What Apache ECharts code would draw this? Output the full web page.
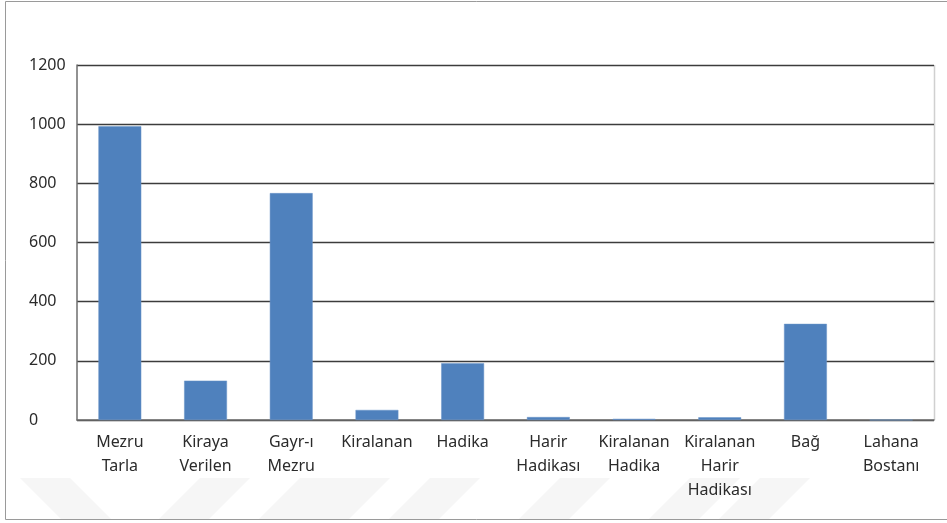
<!DOCTYPE html>
<html>
<head>
<meta charset="utf-8">
<script src="https://cdn.jsdelivr.net/npm/echarts@6/dist/echarts.min.js"></script>
<style>
  html, body { margin: 0; padding: 0; background: #fff; }
  #chart { width: 947px; height: 523px; }
</style>
</head>
<body>
<div id="chart"></div>
<script>
// kategoriler ve değerler
const categories = [
  'Mezru\nTarla', 'Kiraya\nVerilen', 'Gayr-ı\nMezru', 'Kiralanan', 'Hadika',
  'Harir\nHadikası', 'Kiralanan\nHadika', 'Kiralanan\nHarir\nHadikası', 'Bağ', 'Lahana\nBostanı'
]
const values = [993, 133, 767, 34, 192, 10, 4, 9, 325, 0]
const yTicks = [0, 200, 400, 600, 800, 1000, 1200]

const myChart = echarts.init(document.getElementById('chart'))

// arka plandaki soluk filigran şekilleri
const wm = (pts) => ({
  type: 'polygon',
  silent: true,
  z: -10,
  shape: { points: pts },
  style: { fill: '#f6f6f6' }
})

const option = {
  animation: false,
  textStyle: { fontFamily: 'Noto Sans' },
  graphic: [
    wm([[20, 478], [70, 478], [112, 520], [62, 520]]),
    wm([[200, 478], [250, 478], [208, 520], [158, 520]]),
    wm([[300, 478], [390, 478], [348, 520], [258, 520]]),
    wm([[430, 478], [480, 478], [438, 520], [388, 520]]),
    wm([[560, 478], [610, 478], [568, 520], [518, 520]]),
    wm([[690, 478], [740, 478], [698, 520], [648, 520]]),
    wm([[760, 478], [810, 478], [768, 520], [718, 520]]),
    {
      type: 'rect',
      silent: true,
      shape: { x: 5.5, y: 1.5, width: 960, height: 518 },
      style: { fill: 'none', stroke: '#9a9a9a', lineWidth: 1 }
    },
    {
      type: 'line',
      silent: true,
      shape: { x1: 934.5, y1: 65, x2: 934.5, y2: 420 },
      style: { stroke: '#d0d0d0', lineWidth: 1.5 }
    }
  ],
  grid: {
    left: 77,
    right: 13,
    top: 65,
    bottom: 103
  },
  xAxis: {
    type: 'category',
    data: categories,
    axisTick: { show: false },
    axisLine: { lineStyle: { color: '#6e6e6e', width: 1.5 } },
    axisLabel: {
      color: '#2b2b2b',
      fontSize: 16,
      lineHeight: 24,
      margin: 10,
      interval: 0
    }
  },
  yAxis: {
    type: 'value',
    min: 0,
    max: 1200,
    interval: 200,
    axisLine: { show: true, lineStyle: { color: '#6e6e6e', width: 1.5 } },
    axisTick: { show: false },
    axisLabel: {
      color: '#2b2b2b',
      fontSize: 16,
      margin: 48,
      align: 'left',
      customValues: yTicks,
      formatter: (v) => String(v)
    },
    splitLine: { lineStyle: { color: '#3c3c3c', width: 1.3 } }
  },
  series: [
    {
      type: 'bar',
      data: values,
      barWidth: '50%',
      itemStyle: { color: '#4f81bd', borderColor: '#6a95c9', borderWidth: 0.5 }
    }
  ]
}

myChart.setOption(option)
</script>
</body>
</html>
